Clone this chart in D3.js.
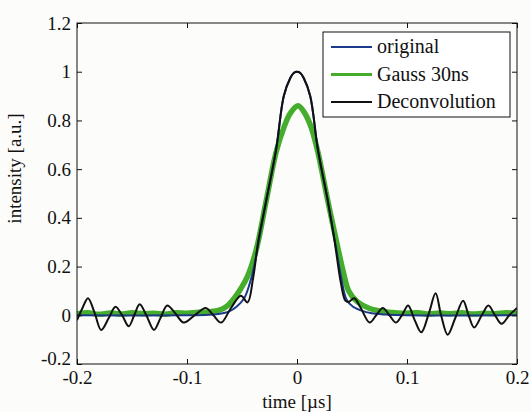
<!DOCTYPE html>
<html>
<head>
<meta charset="utf-8">
<script src="https://cdn.jsdelivr.net/npm/d3@7"></script>
<style>
  body { margin: 0; background: #fcfcfa; }
  svg { display: block; }
  text { font-family: "Liberation Serif", "Times New Roman", serif; fill: #111; }
</style>
</head>
<body>
<div id="chart"></div>
<script>
// [time in µs, intensity]
const original = [
  [-0.2, 0.0], [-0.1, 0.0], [-0.08, 0.002], [-0.07, 0.006], [-0.062, 0.015],
  [-0.055, 0.035], [-0.048, 0.07], [-0.043, 0.13], [-0.039, 0.2], [-0.035, 0.3],
  [-0.028, 0.47], [-0.019, 0.68], [-0.012, 0.9], [-0.006, 0.975], [-0.003, 0.995],
  [0, 1.0], [0.003, 0.995], [0.006, 0.975], [0.012, 0.9], [0.019, 0.68],
  [0.028, 0.47], [0.035, 0.29], [0.040, 0.16], [0.045, 0.065], [0.051, 0.035],
  [0.058, 0.02], [0.068, 0.008], [0.08, 0.003], [0.1, 0.0], [0.2, 0.0]
];

const gauss = [
  [-0.2, 0.006], [-0.19, 0.01], [-0.18, 0.004], [-0.17, 0.009], [-0.16, 0.005],
  [-0.15, 0.01], [-0.14, 0.006], [-0.13, 0.008], [-0.12, 0.004], [-0.11, 0.01],
  [-0.10, 0.008], [-0.09, 0.012], [-0.08, 0.014], [-0.07, 0.022], [-0.063, 0.04],
  [-0.057, 0.07], [-0.051, 0.11], [-0.045, 0.16], [-0.037, 0.27], [-0.028, 0.47],
  [-0.019, 0.67], [-0.012, 0.77], [-0.006, 0.83], [0.001, 0.86], [0.007, 0.83],
  [0.013, 0.77], [0.019, 0.67], [0.028, 0.47], [0.037, 0.28], [0.042, 0.18],
  [0.047, 0.10], [0.055, 0.055], [0.065, 0.03], [0.075, 0.018], [0.085, 0.012],
  [0.095, 0.008], [0.11, 0.01], [0.12, 0.005], [0.13, 0.009], [0.14, 0.006],
  [0.15, 0.01], [0.16, 0.005], [0.17, 0.008], [0.18, 0.006], [0.19, 0.01], [0.2, 0.008]
];

const deconv = [
  [-0.200, -0.02], [-0.195, 0.03], [-0.190, 0.07], [-0.184, 0.01], [-0.178, -0.06],
  [-0.171, -0.01], [-0.165, 0.035], [-0.159, 0.0], [-0.153, -0.045], [-0.148, 0.0],
  [-0.143, 0.045], [-0.137, 0.0], [-0.130, -0.06], [-0.124, -0.01], [-0.118, 0.04],
  [-0.111, 0.01], [-0.103, -0.03], [-0.093, 0.0], [-0.083, 0.03], [-0.076, 0.0],
  [-0.069, -0.03], [-0.060, 0.03], [-0.051, 0.08], [-0.045, 0.053], [-0.040, 0.15],
  [-0.035, 0.31], [-0.028, 0.47], [-0.019, 0.68], [-0.012, 0.90], [-0.006, 0.975],
  [-0.003, 0.995], [0, 1.0], [0.003, 0.995], [0.006, 0.975], [0.012, 0.90],
  [0.019, 0.68], [0.028, 0.47], [0.034, 0.31], [0.040, 0.13], [0.044, 0.06],
  [0.047, 0.055], [0.052, 0.07], [0.058, 0.03], [0.066, -0.03], [0.072, 0.0],
  [0.078, 0.03], [0.084, 0.0], [0.090, -0.03], [0.096, 0.005], [0.101, 0.04],
  [0.107, -0.02], [0.113, -0.07], [0.120, 0.01], [0.126, 0.09], [0.131, 0.0],
  [0.137, -0.08], [0.144, -0.01], [0.151, 0.06], [0.156, 0.0], [0.161, -0.05],
  [0.168, 0.0], [0.174, 0.04], [0.180, 0.0], [0.186, -0.035], [0.193, 0.0], [0.200, 0.03]
];

const xTicks = [-0.2, -0.1, 0, 0.1, 0.2];
const yTicks = [-0.2, 0, 0.2, 0.4, 0.6, 0.8, 1, 1.2];
const seriesNames = ["original", "Gauss 30ns", "Deconvolution"];
const seriesColors = ["#1c3a8a", "#45ad2c", "#111111"];

const W = 531, H = 412;
const margin = {top: 23, right: 14, bottom: 48, left: 77};
const width = W - margin.left - margin.right;
const height = H - margin.top - margin.bottom;

const svg = d3.select("#chart").append("svg")
  .attr("width", W)
  .attr("height", H);

const g = svg.append("g")
  .attr("transform", "translate(" + margin.left + "," + margin.top + ")");

const x = d3.scaleLinear().domain([-0.2, 0.2]).range([0, width]);
const y = d3.scaleLinear().domain([-0.2, 1.2]).range([height, 0]);

// plain hyphen minus like the matlab figure
const fmt = d => String(+d.toFixed(1));

g.append("clipPath").attr("id", "clip")
  .append("rect").attr("width", width).attr("height", height);

const line = d3.line()
  .x(d => x(d[0]))
  .y(d => y(d[1]))
  .curve(d3.curveCatmullRom.alpha(0.5));

const plot = g.append("g").attr("clip-path", "url(#clip)");

plot.append("path").datum(gauss)
  .attr("fill", "none").attr("stroke", seriesColors[1])
  .attr("stroke-width", 5.5).attr("stroke-linejoin", "round")
  .attr("d", line);

plot.append("path").datum(original)
  .attr("fill", "none").attr("stroke", seriesColors[0])
  .attr("stroke-width", 2).attr("d", line);

plot.append("path").datum(deconv)
  .attr("fill", "none").attr("stroke", seriesColors[2])
  .attr("stroke-width", 2).attr("d", line);

// ticks inside on all four sides
const axStyle = sel => {
  sel.select(".domain").remove();
  sel.selectAll("line").attr("stroke", "#111");
  sel.selectAll("text").style("font-size", "19px")
    .style("font-family", "'Liberation Serif', serif").attr("fill", "#111");
};

g.append("g")
  .attr("transform", "translate(0," + height + ")")
  .call(d3.axisBottom(x).tickValues(xTicks).tickFormat(fmt).tickSizeInner(-5).tickPadding(7))
  .call(axStyle);

g.append("g")
  .call(d3.axisTop(x).tickValues(xTicks).tickFormat("").tickSizeInner(-5))
  .call(axStyle);

const yAxisG = g.append("g")
  .call(d3.axisLeft(y).tickValues(yTicks).tickFormat(fmt).tickSizeInner(-5).tickPadding(6))
  .call(axStyle);

// lowest y label sits a bit higher so it does not run into the x label
yAxisG.selectAll(".tick").filter(d => d === -0.2).select("text").attr("dy", "0.05em");

g.append("g")
  .attr("transform", "translate(" + width + ",0)")
  .call(d3.axisRight(y).tickValues(yTicks).tickFormat("").tickSizeInner(-5))
  .call(axStyle);

g.append("rect")
  .attr("width", width).attr("height", height)
  .attr("fill", "none").attr("stroke", "#111").attr("stroke-width", 1);

// axis labels
g.append("text")
  .attr("x", width / 2).attr("y", height + 44)
  .attr("text-anchor", "middle").style("font-size", "19px")
  .text("time [\u00b5s]");

g.append("text")
  .attr("transform", "translate(" + (-56) + "," + (height / 2 - 25) + ") rotate(-90)")
  .attr("text-anchor", "middle").style("font-size", "19px")
  .text("intensity [a.u.]");

// legend
const lg = g.append("g").attr("transform", "translate(" + (323 - margin.left) + "," + (32 - margin.top) + ")");
lg.append("rect")
  .attr("width", 187).attr("height", 85)
  .attr("fill", "#fff").attr("stroke", "#111").attr("stroke-width", 1);

seriesNames.forEach((name, i) => {
  const yy = 15 + i * 27.5;
  lg.append("line")
    .attr("x1", 8).attr("x2", 49).attr("y1", yy).attr("y2", yy)
    .attr("stroke", seriesColors[i]).attr("stroke-width", i === 1 ? 3 : 2);
  lg.append("text")
    .attr("x", 54).attr("y", yy + 6)
    .style("font-size", "20px")
    .text(name);
});
</script>
</body>
</html>
